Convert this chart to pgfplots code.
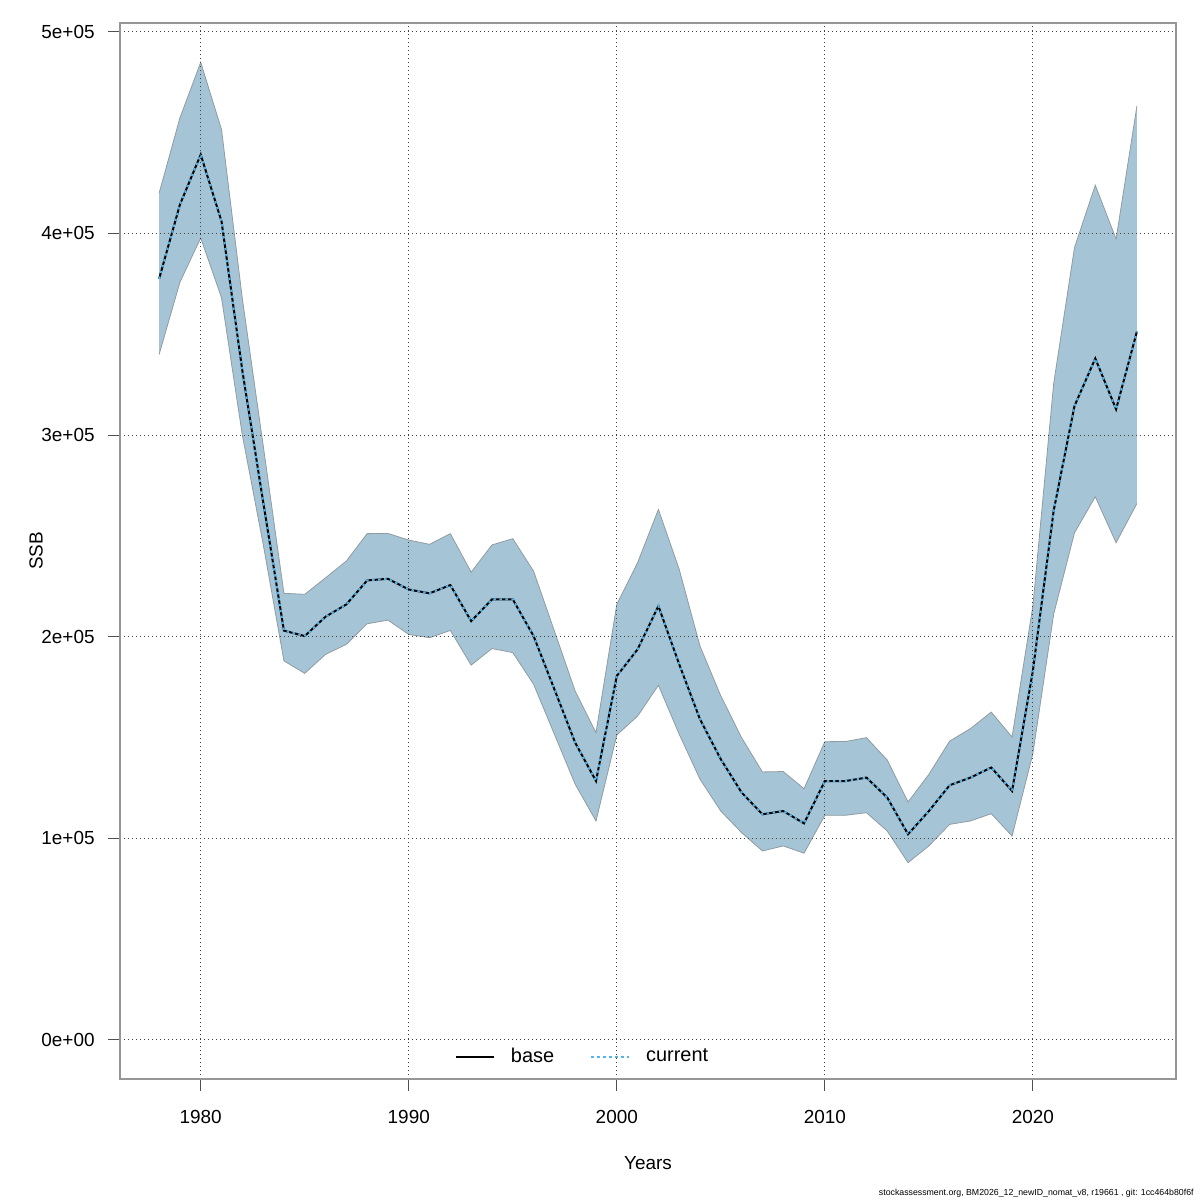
\documentclass[border=0pt]{standalone}
\usepackage{fontspec}
\setmainfont{Liberation Sans}
\usepackage{pgfplots}
\usepackage{pgfplotstable}
\pgfplotsset{compat=1.18}
\usepgfplotslibrary{fillbetween}

\definecolor{band}{RGB}{165,197,214}
\definecolor{bandedge}{RGB}{145,155,162}
\definecolor{cur}{RGB}{86,180,233}
\definecolor{axdark}{RGB}{80,80,80}
\definecolor{axlight}{RGB}{150,150,150}

% SSB estimate with lower/upper confidence bounds
\pgfplotstableread{
year low ssb high
1978 340000 377500 420000
1979 375800 414300 457300
1980 397800 439100 484900
1981 368100 406000 451500
1982 300000 332000 367700
1983 246000 267000 295000
1984 188000 203000 221500
1985 181800 200300 221000
1986 191200 209900 229200
1987 196200 216000 237500
1988 206400 227900 251100
1989 208200 228700 251200
1990 201100 223400 247900
1991 199500 221500 245800
1992 203100 225600 251100
1993 185900 207700 232000
1994 194100 218500 245500
1995 192100 218500 248600
1996 176400 200300 232500
1997 151600 173900 202800
1998 126800 147400 173000
1999 108600 128400 152400
2000 151200 180500 216000
2001 160600 193700 236700
2002 175900 215200 263100
2003 151600 186300 233400
2004 129300 159000 195300
2005 113500 139200 170600
2006 102800 122700 149900
2007 93700 111900 132900
2008 96200 113500 133100
2009 92600 107400 124600
2010 111400 128400 147900
2011 111400 128400 148000
2012 112700 130100 149900
2013 103600 120200 138800
2014 87900 102000 118000
2015 96200 113500 131700
2016 106900 126300 148200
2017 108600 130100 154400
2018 112200 135100 162600
2019 101100 123500 150200
2020 142000 183000 215200
2021 211200 262500 325500
2022 251500 314400 392900
2023 269400 338000 423900
2024 246600 312800 397200
2025 266000 351300 463100
}\ssbtab

\begin{document}
\begin{tikzpicture}
\begin{axis}[
    at={(60bp,60.5bp)}, anchor=south west,
    scale only axis, width=528bp, height=528bp,
    xmin=1976.12, xmax=2026.88,
    ymin=-19400, ymax=504400,
    axis on top,
    axis line style={draw=axlight, line width=0.6bp},
    xtick={1980,1990,2000,2010,2020},
    xticklabels={1980,1990,2000,2010,2020},
    ytick={0,100000,200000,300000,400000,500000},
    yticklabels={0e+00,1e+05,2e+05,3e+05,4e+05,5e+05},
    scaled y ticks=false,
    xtick pos=left, ytick pos=left,
    tick align=outside,
    major tick length=6bp,
    tick style={draw=axdark, line width=0.5bp},
    grid=major,
    major grid style={draw=black!75, line width=0.5bp, dash pattern=on 0.5bp off 1.5bp},
    tick label style={font=\fontsize{9.5}{11}\selectfont},
    xticklabel style={anchor=base, yshift=-16bp},
    yticklabel style={anchor=east, inner sep=0pt, xshift=-6.5bp},
    xlabel={Years},
    ylabel={SSB},
    label style={font=\fontsize{9.5}{11}\selectfont},
    xlabel style={at={(axis description cs:0.5,-0.0795)}, anchor=center},
    ylabel style={at={(axis description cs:-0.0795,0.5)}, anchor=center},
    legend columns=2,
    legend style={at={(axis description cs:0.439,0.0208)}, anchor=center,
        draw=none, fill=none, font=\fontsize{10}{12}\selectfont,
        /tikz/every odd column/.append style={column sep=6bp},
        /tikz/every even column/.append style={column sep=16bp}},
    legend image code/.code={\draw[#1] (0bp,0bp) -- (19bp,0bp);},
]
\addplot[name path=hi, draw=bandedge, line width=0.4bp, forget plot] table[x=year, y=high] {\ssbtab};
\addplot[name path=lo, draw=bandedge, line width=0.4bp, forget plot] table[x=year, y=low] {\ssbtab};
\addplot[band, forget plot] fill between[of=hi and lo];
\addplot[black, line width=1bp] table[x=year, y=ssb] {\ssbtab};
\addplot[cur, line width=1bp, dash pattern=on 1.2bp off 1.8bp] table[x=year, y=ssb] {\ssbtab};
\legend{base, current}
\draw[axdark, line width=0.6bp] (axis description cs:0,1) -- (axis description cs:0,0) -- (axis description cs:1,0);
\end{axis}
\node[anchor=base east, inner sep=0pt, font=\fontsize{4.4}{5}\selectfont] at (597bp,2.5bp)
    {stockassessment.org, BM2026\_12\_newID\_nomat\_v8, r19661 , git: 1cc464b80f6f};
\path (0,0) rectangle (600bp,600bp);
\end{tikzpicture}
\end{document}
